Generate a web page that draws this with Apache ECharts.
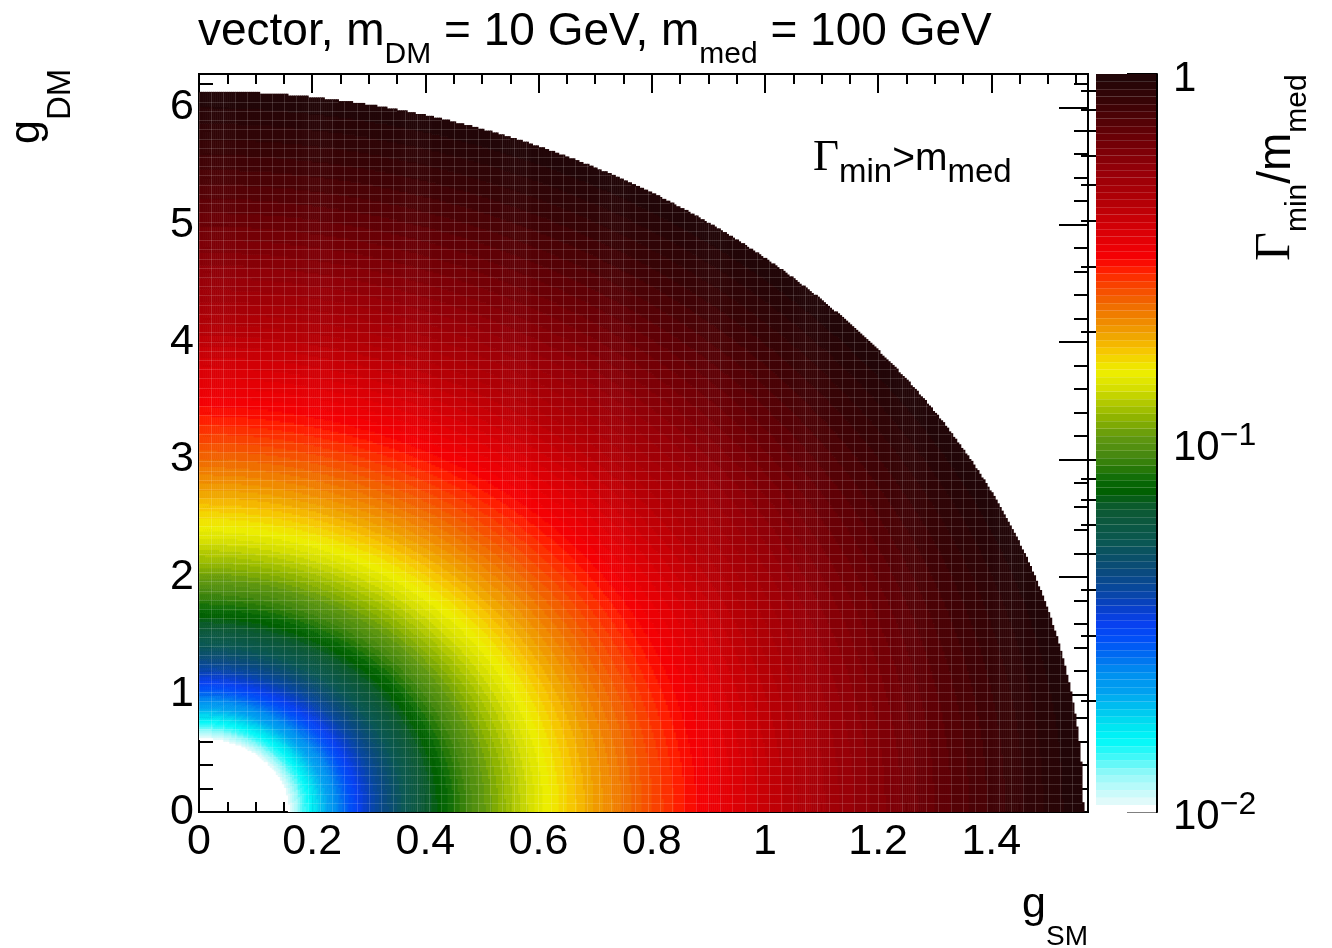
<!DOCTYPE html>
<html>
<head>
<meta charset="utf-8">
<title>vector, m_DM = 10 GeV, m_med = 100 GeV</title>
<script src="https://cdn.jsdelivr.net/npm/echarts@6/dist/echarts.min.js"></script>
<style>
  html, body { margin: 0; padding: 0; background: #fff; }
  #chart { width: 1332px; height: 948px; }
</style>
</head>
<body>
<div id="chart"></div>
<script>
  // couplings where Gamma_min/m_med reaches 1 on each axis (edge of the coloured region)
  var gSMAtUnity = 1.562;
  var gDMAtUnity = 6.133;
  // z range of the palette and number of contour levels
  var zMin = 0.01;
  var zMax = 1;
  var nLevels = 100;

  // histogram binning
  var xMax = Math.PI / 2;
  var yMax = 2 * Math.PI;
  var nx = 440;
  var ny = 400;
  var dx = xMax / nx;
  var dy = yMax / ny;

  // tick values and labels
  var xMajor = [0, 0.2, 0.4, 0.6, 0.8, 1, 1.2, 1.4];
  var xMajorLabels = ['0', '0.2', '0.4', '0.6', '0.8', '1', '1.2', '1.4'];
  var xMinor = [0.05, 0.1, 0.15, 0.25, 0.3, 0.35, 0.45, 0.5, 0.55, 0.65, 0.7, 0.75,
    0.85, 0.9, 0.95, 1.05, 1.1, 1.15, 1.25, 1.3, 1.35, 1.45, 1.5, 1.55];
  var yMajor = [0, 1, 2, 3, 4, 5, 6];
  var yMinor = [0.2, 0.4, 0.6, 0.8, 1.2, 1.4, 1.6, 1.8, 2.2, 2.4, 2.6, 2.8, 3.2, 3.4, 3.6, 3.8,
    4.2, 4.4, 4.6, 4.8, 5.2, 5.4, 5.6, 5.8, 6.2];
  var zMajor = [0.01, 0.1, 1];
  var zMinor = [0.02, 0.03, 0.04, 0.05, 0.06, 0.07, 0.08, 0.09, 0.2, 0.3, 0.4, 0.5, 0.6, 0.7, 0.8, 0.9];

  var SANS = 'Liberation Sans';
  var SERIF = 'Liberation Serif';
  var SEAM = 'rgba(255,255,255,0.15)';

  // palette, position on the log z scale -> colour
  var stops = [
    [0.000, '#ffffff'], [0.010, '#ffffff'], [0.012, '#e6fafa'], [0.030, '#c0fafa'],
    [0.053, '#90f8f8'], [0.075, '#40f8f8'], [0.098, '#00f8f8'], [0.121, '#00e0f0'],
    [0.142, '#00c0f0'], [0.165, '#00a0f0'], [0.188, '#0090f0'], [0.210, '#0070f0'],
    [0.233, '#0050f8'], [0.256, '#0840f0'], [0.278, '#0840c8'], [0.301, '#0848a0'],
    [0.324, '#0a4a80'], [0.346, '#0a5068'], [0.369, '#0a5850'], [0.392, '#0c5840'],
    [0.413, '#0c5a30'], [0.436, '#006000'], [0.450, '#0a6a08'], [0.467, '#2a7a08'],
    [0.486, '#4a8a10'], [0.508, '#609810'], [0.531, '#88b000'], [0.554, '#b0c800'],
    [0.576, '#d8e000'], [0.599, '#f0f000'], [0.608, '#f0e000'], [0.630, '#f8c000'],
    [0.644, '#f0a800'], [0.667, '#f08800'], [0.690, '#f06800'], [0.711, '#f84800'],
    [0.734, '#ff2000'], [0.752, '#f70004'], [0.789, '#d80006'], [0.825, '#b50006'],
    [0.870, '#960008'], [0.915, '#6a0006'], [0.961, '#3a0406'], [1.000, '#1e0608']
  ];

  function hex(c) {
    return [parseInt(c.slice(1, 3), 16), parseInt(c.slice(3, 5), 16), parseInt(c.slice(5, 7), 16)];
  }
  function paletteAt(t) {
    for (var s = 1; s < stops.length; s++) {
      if (t <= stops[s][0]) {
        var a = stops[s - 1], b = stops[s];
        var f = (t - a[0]) / (b[0] - a[0]);
        var ca = hex(a[1]), cb = hex(b[1]);
        return 'rgb(' + [0, 1, 2].map(function (n) {
          return Math.round(ca[n] + (cb[n] - ca[n]) * f);
        }).join(',') + ')';
      }
    }
    return stops[stops.length - 1][1];
  }
  var levelColors = [];
  for (var k = 0; k < nLevels; k++) levelColors.push(paletteAt((k + 0.5) / nLevels));

  var logMin = Math.log10(zMin), logMax = Math.log10(zMax);
  function levelOf(z) {
    var k = Math.floor((Math.log10(z) - logMin) / (logMax - logMin) * nLevels);
    return Math.max(0, Math.min(nLevels - 1, k));
  }

  // bin content: Gamma_min/m_med = partial SM width + partial DM width
  function binValue(i, j) {
    var gs = (i + 0.5) * dx, gd = (j + 0.5) * dy;
    return Math.pow(gs / gSMAtUnity, 2) + Math.pow(gd / gDMAtUnity, 2);
  }

  // filled bins, merged along each column into runs of the same contour level
  var runs = [];
  var colFirst = [], colLast = [], rowFirst = [], rowLast = [];
  for (var i = 0; i < nx; i++) {
    var start = -1, lev = -1;
    for (var j = 0; j <= ny; j++) {
      var w = j < ny ? binValue(i, j) : -1;
      var inside = w >= zMin && w <= zMax;
      var kk = inside ? levelOf(w) : -1;
      if (start >= 0 && kk !== lev) {
        runs.push([i * dx, start * dy, (i + 1) * dx, j * dy, lev]);
        start = -1;
      }
      if (inside) {
        if (start < 0) { start = j; lev = kk; }
        if (colFirst[i] === undefined) colFirst[i] = j;
        colLast[i] = j;
        if (rowFirst[j] === undefined) rowFirst[j] = i;
        rowLast[j] = i;
      }
    }
  }

  // light seams between groups of bins, as in the rasterised original
  var seams = [];
  for (var si = 0; si < nx; si += 6) {
    if (colFirst[si] !== undefined) seams.push([si * dx, colFirst[si] * dy, si * dx, (colLast[si] + 1) * dy]);
  }
  for (var sj = 0; sj < ny; sj += 5) {
    if (rowFirst[sj] !== undefined) seams.push([rowFirst[sj] * dx, sj * dy, (rowLast[sj] + 1) * dx, sj * dy]);
  }

  var bands = [];
  for (var k2 = 0; k2 < nLevels; k2++) {
    bands.push([logMin + (logMax - logMin) * k2 / nLevels, logMin + (logMax - logMin) * (k2 + 1) / nLevels, k2]);
  }

  // rich text token: size, baseline offset below the anchor line
  function tok(size, base, family) {
    family = family || SANS;
    var kk = family === SERIF ? 0.3375 : 0.3465;
    var d = Math.round((base - kk * size) * 2);
    return {
      fontSize: size, fontFamily: family, color: '#000', verticalAlign: 'middle',
      padding: d >= 0 ? [d, 0, 0, 0] : [0, 0, -d, 0]
    };
  }

  var axisLineStyle = { color: '#000', width: 2 };
  function xAx(pos, ticks, len, labels) {
    return {
      type: 'value', gridIndex: 0, min: 0, max: xMax, position: pos,
      splitLine: { show: false },
      axisLine: { show: true, onZero: false, lineStyle: axisLineStyle },
      axisTick: { show: true, inside: true, length: len, customValues: ticks, lineStyle: axisLineStyle },
      axisLabel: labels ? {
        customValues: xMajor, margin: 9, fontSize: 43, fontFamily: SANS, color: '#000',
        formatter: function (v) { return xMajorLabels[xMajor.indexOf(v)]; }
      } : { show: false }
    };
  }
  function yAx(pos, ticks, len, labels) {
    return {
      type: 'value', gridIndex: 0, min: 0, max: yMax, position: pos,
      splitLine: { show: false },
      axisLine: { show: true, onZero: false, lineStyle: axisLineStyle },
      axisTick: { show: true, inside: true, length: len, customValues: ticks, lineStyle: axisLineStyle },
      axisLabel: labels ? {
        customValues: yMajor, margin: 5, fontSize: 43, fontFamily: SANS, color: '#000',
        formatter: function (v) { return String(v); }
      } : { show: false }
    };
  }

  var myChart = echarts.init(document.getElementById('chart'), null, { renderer: 'canvas' });

  var option = {
    animation: false,
    backgroundColor: '#fff',
    grid: [
      { left: 199, top: 74, width: 889, height: 738 },
      { left: 1096, top: 74, width: 61, height: 738 }
    ],
    xAxis: [
      xAx('bottom', xMajor, 19, true),
      xAx('bottom', xMinor, 10, false),
      xAx('top', xMajor, 19, false),
      xAx('top', xMinor, 10, false),
      { type: 'value', gridIndex: 1, min: 0, max: 1, show: false }
    ],
    yAxis: [
      yAx('left', yMajor, 29, true),
      yAx('left', yMinor, 14, false),
      yAx('right', yMajor, 29, false),
      yAx('right', yMinor, 14, false),
      {
        type: 'value', gridIndex: 1, min: logMin, max: logMax, position: 'right',
        splitLine: { show: false },
        axisLine: { show: true, onZero: false, lineStyle: axisLineStyle },
        axisTick: { show: true, inside: true, length: 30, lineStyle: axisLineStyle,
          customValues: zMajor.map(Math.log10) },
        axisLabel: {
          customValues: zMajor.map(Math.log10), margin: 16,
          formatter: function (v) {
            var e = Math.round(v);
            return e === 0 ? '{b|1}' : '{b|10}{p|\u2212' + (-e) + '}';
          },
          rich: { b: tok(42, 20), p: tok(32, 4) }
        }
      },
      {
        type: 'value', gridIndex: 1, min: logMin, max: logMax, position: 'right',
        splitLine: { show: false },
        axisLine: { show: false },
        axisTick: { show: true, inside: true, length: 15, lineStyle: axisLineStyle,
          customValues: zMinor.map(Math.log10) },
        axisLabel: { show: false }
      }
    ],
    series: [
      {
        type: 'custom',
        xAxisIndex: 0, yAxisIndex: 0,
        silent: true,
        clip: true,
        progressive: 0,
        progressiveThreshold: 10000000,
        data: runs,
        renderItem: function (params, api) {
          var a = api.coord([api.value(0), api.value(1)]);
          var b = api.coord([api.value(2), api.value(3)]);
          return {
            type: 'rect',
            shape: { x: a[0], y: b[1] - 0.6, width: b[0] - a[0] + 0.6, height: a[1] - b[1] + 0.6 },
            style: { fill: levelColors[api.value(4)] }
          };
        }
      },
      {
        type: 'custom',
        xAxisIndex: 0, yAxisIndex: 0,
        silent: true,
        clip: true,
        data: seams,
        renderItem: function (params, api) {
          var a = api.coord([api.value(0), api.value(1)]);
          var b = api.coord([api.value(2), api.value(3)]);
          var vertical = api.value(0) === api.value(2);
          var shape = vertical
            ? { x1: Math.round(a[0]) + 0.5, y1: a[1], x2: Math.round(a[0]) + 0.5, y2: b[1] }
            : { x1: a[0], y1: Math.round(a[1]) + 0.5, x2: b[0], y2: Math.round(a[1]) + 0.5 };
          return { type: 'line', shape: shape, style: { stroke: SEAM, lineWidth: 1 } };
        }
      },
      {
        type: 'custom',
        xAxisIndex: 4, yAxisIndex: 4,
        silent: true,
        data: bands,
        renderItem: function (params, api) {
          var a = api.coord([0, api.value(0)]);
          var b = api.coord([1, api.value(1)]);
          var kk = api.value(2);
          var kids = [{
            type: 'rect',
            shape: { x: a[0], y: b[1], width: b[0] - a[0] - 1, height: a[1] - b[1] + 0.5 },
            style: { fill: levelColors[kk] }
          }];
          if (kk > 0) {
            kids.push({ type: 'line', shape: { x1: a[0], y1: Math.round(a[1]) + 0.5, x2: b[0] - 1, y2: Math.round(a[1]) + 0.5 },
              style: { stroke: SEAM, lineWidth: 1 } });
          }
          return { type: 'group', children: kids };
        }
      }
    ],
    graphic: [
      {
        type: 'text', x: 198, y: 32,
        style: {
          text: '{m|vector, m}{s|DM}{m| = 10 GeV, m}{s|med}{m| = 100 GeV}',
          rich: { m: tok(46, 16), s: tok(30, 33) },
          align: 'left', verticalAlign: 'middle'
        }
      },
      {
        type: 'text', x: 813, y: 160,
        style: {
          text: '{G|\u0393}{s|min}{m|>m}{s|med}',
          rich: { G: tok(45, 13, SERIF), m: tok(39, 13), s: tok(33, 24) },
          align: 'left', verticalAlign: 'middle'
        }
      },
      {
        type: 'text', x: 1088, y: 910,
        style: {
          text: '{m|g}{s|SM}',
          rich: { m: tok(43, 10), s: tok(28, 37) },
          align: 'right', verticalAlign: 'middle'
        }
      },
      {
        type: 'text', x: 45, y: 144, rotation: Math.PI / 2,
        style: {
          text: '{m|g}{s|DM}',
          rich: { m: tok(43, -3), s: tok(33, 27) },
          align: 'left', verticalAlign: 'middle'
        }
      },
      {
        type: 'text', x: 1280, y: 261, rotation: Math.PI / 2,
        style: {
          text: '{G|\u0393}{s|min}{m|/m}{s|med}',
          rich: { G: tok(50, 13, SERIF), m: tok(46, 13), s: tok(30, 28) },
          align: 'left', verticalAlign: 'middle'
        }
      }
    ]
  };

  myChart.setOption(option);
</script>
</body>
</html>
